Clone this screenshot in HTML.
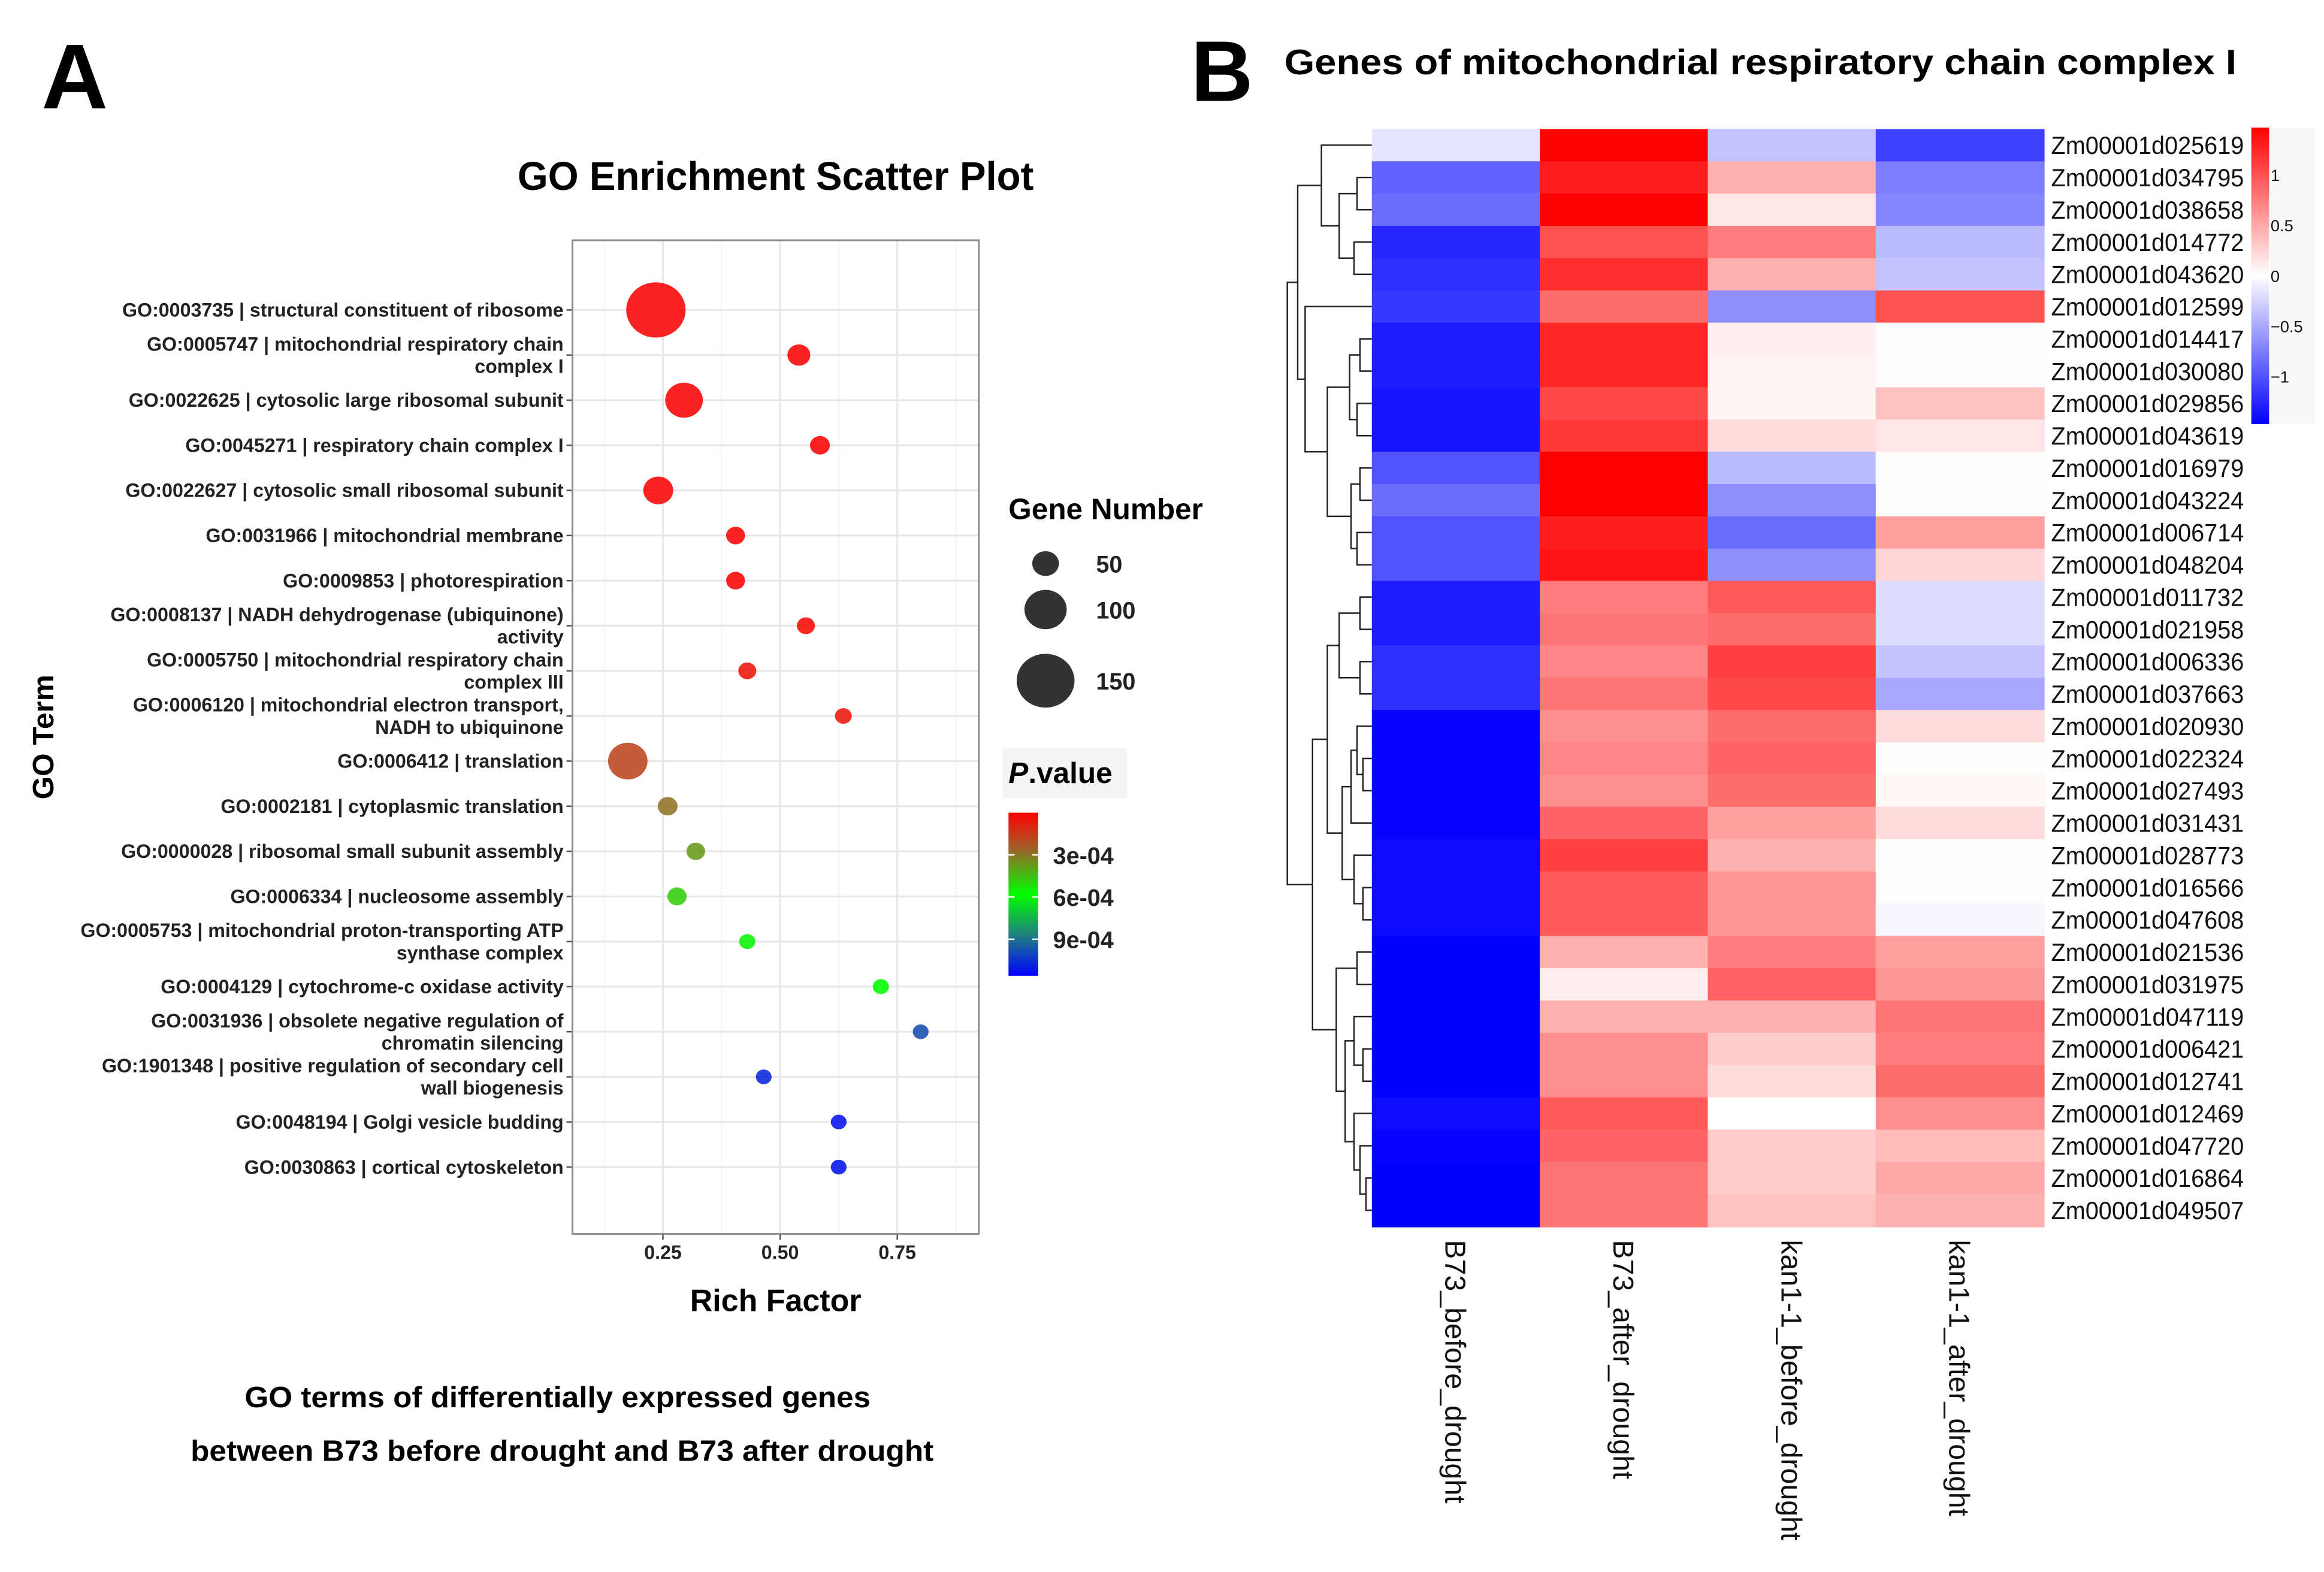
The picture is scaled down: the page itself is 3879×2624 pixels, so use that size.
<!DOCTYPE html>
<html><head><meta charset="utf-8">
<style>
html,body{margin:0;padding:0;background:#fff;}
svg{display:block;}
text{font-family:"Liberation Sans",sans-serif;}
.go{font-family:"Liberation Sans Narrow","Liberation Sans",sans-serif;font-weight:bold;font-size:13px;fill:#222;}
</style></head>
<body>
<svg id="fig" width="3879" height="2624" viewBox="0 0 1567 1060" xmlns="http://www.w3.org/2000/svg">
<defs>
<linearGradient id="pgrad" x1="0" y1="0" x2="0" y2="1">
<stop offset="0" stop-color="#ff0000"/><stop offset="0.22" stop-color="#a0602a"/><stop offset="0.5" stop-color="#00ff00"/><stop offset="0.75" stop-color="#208080"/><stop offset="1" stop-color="#0000ff"/>
</linearGradient>
<linearGradient id="hgrad" x1="0" y1="0" x2="0" y2="1">
<stop offset="0" stop-color="#ff0000"/><stop offset="0.5" stop-color="#ffffff"/><stop offset="1" stop-color="#0000ff"/>
</linearGradient>
</defs>
<text x="28" y="73" font-size="62" font-weight="bold">A</text>
<text x="803" y="68" font-size="58" font-weight="bold">B</text>
<text x="866" y="50" font-size="24" font-weight="bold" textLength="642" lengthAdjust="spacingAndGlyphs">Genes of mitochondrial respiratory chain complex I</text>
<text x="523" y="128" font-size="27" font-weight="bold" text-anchor="middle" textLength="348" lengthAdjust="spacingAndGlyphs">GO Enrichment Scatter Plot</text>
<g id="scatter"></g>
<text transform="translate(36,497) rotate(-90)" font-size="20" font-weight="bold" text-anchor="middle">GO Term</text>
<text x="523" y="884" font-size="21" font-weight="bold" text-anchor="middle">Rich Factor</text>
<text x="376" y="949" font-size="20" font-weight="bold" text-anchor="middle" textLength="422" lengthAdjust="spacingAndGlyphs">GO terms of differentially expressed genes</text>
<text x="379" y="985" font-size="20" font-weight="bold" text-anchor="middle" textLength="501" lengthAdjust="spacingAndGlyphs">between B73 before drought and B73 after drought</text>
<g>
<text x="680" y="350" font-size="20" font-weight="bold">Gene Number</text>
<g id="sizeLegend"></g>
</g>
<g>
<rect x="676" y="505" width="84" height="33" fill="#f4f4f4"/>
<text x="680" y="528" font-size="20" font-weight="bold"><tspan font-style="italic">P</tspan>.value</text>
<rect x="680" y="548" width="20" height="110" fill="url(#pgrad)"/>
<g id="pLegend"></g>
</g>
<g id="heat"></g>
<g id="dendro"></g>
<g>
<rect x="1518" y="86" width="12" height="200" fill="url(#hgrad)"/>
<rect x="1531" y="86" width="30" height="200" fill="#f7f7f7"/>
<g id="hLegend"></g>
</g>
</svg>
<script>
// ---------- Scatter data ----------
const goTerms = [
 ["GO:0003735 | structural constituent of ribosome"],
 ["GO:0005747 | mitochondrial respiratory chain","complex I"],
 ["GO:0022625 | cytosolic large ribosomal subunit"],
 ["GO:0045271 | respiratory chain complex I"],
 ["GO:0022627 | cytosolic small ribosomal subunit"],
 ["GO:0031966 | mitochondrial membrane"],
 ["GO:0009853 | photorespiration"],
 ["GO:0008137 | NADH dehydrogenase (ubiquinone)","activity"],
 ["GO:0005750 | mitochondrial respiratory chain","complex III"],
 ["GO:0006120 | mitochondrial electron transport,","NADH to ubiquinone"],
 ["GO:0006412 | translation"],
 ["GO:0002181 | cytoplasmic translation"],
 ["GO:0000028 | ribosomal small subunit assembly"],
 ["GO:0006334 | nucleosome assembly"],
 ["GO:0005753 | mitochondrial proton-transporting ATP","synthase complex"],
 ["GO:0004129 | cytochrome-c oxidase activity"],
 ["GO:0031936 | obsolete negative regulation of","chromatin silencing"],
 ["GO:1901348 | positive regulation of secondary cell","wall biogenesis"],
 ["GO:0048194 | Golgi vesicle budding"],
 ["GO:0030863 | cortical cytoskeleton"]
];
const richFactor = [0.235,0.54,0.295,0.585,0.24,0.405,0.405,0.555,0.43,0.635,0.175,0.26,0.32,0.28,0.43,0.715,0.80,0.465,0.625,0.625];
const geneNumber = [155,38,85,28,60,25,25,22,22,18,91,28,24,26,16,16,15,15,15,15];
const pValue = [0.00001,0.00001,0.00001,0.00001,0.00001,0.00001,0.00001,0.00002,0.00005,0.00006,0.00018,0.00029,0.00037,0.00048,0.00056,0.00058,0.00098,0.00108,0.00112,0.00112];
const xTicks = [0.25,0.5,0.75];
const sizeBreaks = [50,100,150];
const pTicks = [0.0003,0.0006,0.0009];

const NS="http://www.w3.org/2000/svg";
function mk(tag,attrs,parent){const e=document.createElementNS(NS,tag);for(const k in attrs)e.setAttribute(k,attrs[k]);parent.appendChild(e);return e;}
const P={l:386,r:660,t:162,b:832};
const xS=v=>447+(v-0.25)*316;
const yS=i=>209+i*30.42;
const rS=n=>3.75+0.105*n;
const pMax=0.00116;
const yP=p=>548+p/pMax*110;
function lerp(a,b,t){return a+(b-a)*t;}
const pStops=[[0,[255,0,0]],[0.22,[160,96,42]],[0.5,[0,255,0]],[0.75,[32,128,128]],[1,[0,0,255]]];
function pColor(p){let t=Math.min(1,Math.max(0,p/pMax));for(let i=1;i<pStops.length;i++){if(t<=pStops[i][0]){const a=pStops[i-1],b=pStops[i];const u=(t-a[0])/(b[0]-a[0]);return `rgb(${Math.round(lerp(a[1][0],b[1][0],u))},${Math.round(lerp(a[1][1],b[1][1],u))},${Math.round(lerp(a[1][2],b[1][2],u))})`;}}return "rgb(0,0,255)";}

const sc=document.getElementById('scatter');
mk('rect',{x:P.l,y:P.t,width:P.r-P.l,height:P.b-P.t,fill:'#fff'},sc);
[0.125,0.375,0.625,0.875].forEach(v=>mk('line',{x1:xS(v),x2:xS(v),y1:P.t,y2:P.b,stroke:'#f2f2f2','stroke-width':0.8},sc));
xTicks.forEach(v=>{
 const g=mk('line',{x1:xS(v),x2:xS(v),y1:P.t,y2:P.b,stroke:'#e6e6e6','stroke-width':1.2},sc);
 
 
 mk('line',{x1:xS(v),x2:xS(v),y1:P.b,y2:P.b+4,stroke:'#555'},sc);
 const t=mk('text',{x:xS(v),y:P.b+17,'font-size':13,'font-weight':'bold','text-anchor':'middle',fill:'#222'},sc);
 t.textContent=v.toFixed(2);
 
 
});
goTerms.forEach((lab,i)=>{
 const y=yS(i);
 mk('line',{x1:P.l,x2:P.r,y1:y,y2:y,stroke:'#e6e6e6','stroke-width':1.2},sc);
 mk('line',{x1:P.l-4,x2:P.l,y1:y,y2:y,stroke:'#555'},sc);
 const t=mk('text',{x:P.l-6,'text-anchor':'end',class:'go'},sc);
 
 
 if(lab.length===1){t.setAttribute('y',y+4.5);t.textContent=lab[0];}
 else{
  const a=mk('tspan',{x:P.l-6,y:y-3},t);a.textContent=lab[0];
  const b=mk('tspan',{x:P.l-6,y:y+12},t);b.textContent=lab[1];
 }
});
mk('rect',{x:P.l,y:P.t,width:P.r-P.l,height:P.b-P.t,fill:'none',stroke:'#8a8a8a','stroke-width':1.2},sc);
richFactor.forEach((v,i)=>{
 const c=mk('ellipse',{cx:xS(v),cy:yS(i),rx:rS(geneNumber[i]),ry:rS(geneNumber[i])*0.93,fill:pColor(pValue[i]),'fill-opacity':0.88},sc);
 
 
});
const sl=document.getElementById('sizeLegend');
const slY=[380,411,459];
sizeBreaks.forEach((n,i)=>{
 const c=mk('ellipse',{cx:705,cy:slY[i],rx:rS(n),ry:rS(n)*0.93,fill:'#333'},sl);
 
 
 const t=mk('text',{x:739,y:slY[i]+6,'font-size':16,'font-weight':'bold',fill:'#222'},sl);
 t.textContent=n;
 
 
});
const pl=document.getElementById('pLegend');
pTicks.forEach(p=>{
 const y=yP(p);
 mk('line',{x1:680,x2:684,y1:y,y2:y,stroke:'#fff'},pl);
 mk('line',{x1:696,x2:700,y1:y,y2:y,stroke:'#fff'},pl);
 const t=mk('text',{x:710,y:y+6,'font-size':16,'font-weight':'bold',fill:'#222'},pl);
 t.textContent=p.toExponential(0).replace('e-','e-0');
 
 
});

// ---------- Heatmap data ----------
const geneIds=["Zm00001d025619","Zm00001d034795","Zm00001d038658","Zm00001d014772","Zm00001d043620","Zm00001d012599","Zm00001d014417","Zm00001d030080","Zm00001d029856","Zm00001d043619","Zm00001d016979","Zm00001d043224","Zm00001d006714","Zm00001d048204","Zm00001d011732","Zm00001d021958","Zm00001d006336","Zm00001d037663","Zm00001d020930","Zm00001d022324","Zm00001d027493","Zm00001d031431","Zm00001d028773","Zm00001d016566","Zm00001d047608","Zm00001d021536","Zm00001d031975","Zm00001d047119","Zm00001d006421","Zm00001d012741","Zm00001d012469","Zm00001d047720","Zm00001d016864","Zm00001d049507"];
const sampleNames=["B73_before_drought","B73_after_drought","kan1-1_before_drought","kan1-1_after_drought"];
const valB73Before=[-0.15,-0.9,-0.85,-1.25,-1.2,-1.15,-1.3,-1.3,-1.35,-1.35,-1.0,-0.85,-1.0,-1.0,-1.3,-1.3,-1.2,-1.2,-1.45,-1.45,-1.45,-1.45,-1.4,-1.4,-1.4,-1.47,-1.47,-1.47,-1.47,-1.47,-1.4,-1.45,-1.47,-1.47];
const valB73After=[1.45,1.3,1.45,1.0,1.2,0.85,1.25,1.25,1.05,1.15,1.47,1.47,1.3,1.35,0.75,0.8,0.7,0.8,0.65,0.7,0.65,0.9,1.1,0.95,0.95,0.45,0.1,0.45,0.65,0.65,0.95,0.9,0.8,0.8];
const valKanBefore=[-0.35,0.45,0.15,0.75,0.45,-0.65,0.1,0.07,0.07,0.2,-0.4,-0.65,-0.85,-0.65,0.95,0.85,1.1,1.05,0.85,0.9,0.85,0.55,0.45,0.6,0.6,0.75,0.9,0.45,0.3,0.2,0.0,0.3,0.3,0.35];
const valKanAfter=[-1.1,-0.75,-0.7,-0.4,-0.35,1.0,0.02,0.02,0.35,0.15,0.02,0.02,0.55,0.25,-0.2,-0.2,-0.35,-0.5,0.2,0.02,0.05,0.2,0.02,0.02,-0.05,0.55,0.6,0.8,0.75,0.85,0.65,0.4,0.5,0.45];
const heatTicks=[1,0.5,0,-0.5,-1];
const cols=[valB73Before,valB73After,valKanBefore,valKanAfter];
const H={l:925,r:1378,t:87,b:827};
const cw=(H.r-H.l)/sampleNames.length, rh=(H.b-H.t)/geneIds.length;
const vMax=1.47;
function hColor(v){let t=Math.min(1,Math.abs(v)/vMax);const w=Math.round(255*(1-t));return v<0?`rgb(${w},${w},255)`:`rgb(255,${w},${w})`;}
const hm=document.getElementById('heat');
cols.forEach((arr,j)=>{
 arr.forEach((v,i)=>{
  const r=mk('rect',{x:H.l+j*cw,y:H.t+i*rh,width:cw+0.6,height:rh+0.6,fill:hColor(v)},hm);
  
  
 });
 const t=mk('text',{transform:`translate(${H.l+(j+0.5)*cw-7},${H.b+9}) rotate(90)`,'font-size':19.5,fill:'#111'},hm);
 t.textContent=sampleNames[j];
 
 
});
geneIds.forEach((g,i)=>{
 const t=mk('text',{x:H.r+5,y:H.t+(i+0.5)*rh+6,'font-size':17,fill:'#111',textLength:130,lengthAdjust:'spacingAndGlyphs'},hm);
 t.textContent=g;
 
 
});
const hl=document.getElementById('hLegend');
heatTicks.forEach(v=>{
 const y=186-v*68;
 const t=mk('text',{x:1531,y:y+4,'font-size':11,fill:'#111'},hl);
 t.textContent=v<0?'\u2212'+Math.abs(v):String(v);
 
 
});
const A=[10,1,2],B=[12,3,4],AB=[22,A,B];
const C=[8,6,7],D=[10,8,9],CD=[15,C,D],E=[8,10,11],F=[10,12,13],EF=[14,E,F],CDEF=[30,CD,EF],G=[45,5,CDEF];
const T=[50,[34,0,AB],G];
const HH=[8,14,15],II=[8,16,17],HI=[22,HH,II];
const J=[10,[6,19,20],18],K=[14,J,21],L=[12,22,[6,23,24]],KL=[20,K,L],HIKL=[30,HI,KL];
const M=[10,25,26],N=[12,27,[6,28,29]],O=[12,30,[8,31,[4,32,33]]],NO=[18,N,O],MNO=[24,M,NO];
const BOT=[40,HIKL,MNO];
const ROOT=[57,T,BOT];
const dg=document.getElementById('dendro');
function draw(n){
 if(typeof n==='number')return {x:H.l,y:H.t+(n+0.5)*rh};
 const a=draw(n[1]),b=draw(n[2]);const x=H.l-n[0];
 mk('path',{d:`M${a.x},${a.y}H${x}V${b.y}H${b.x}`,fill:'none',stroke:'#222','stroke-width':1},dg);
 return {x,y:(a.y+b.y)/2};
}
draw(ROOT);
</script>
</body></html>
